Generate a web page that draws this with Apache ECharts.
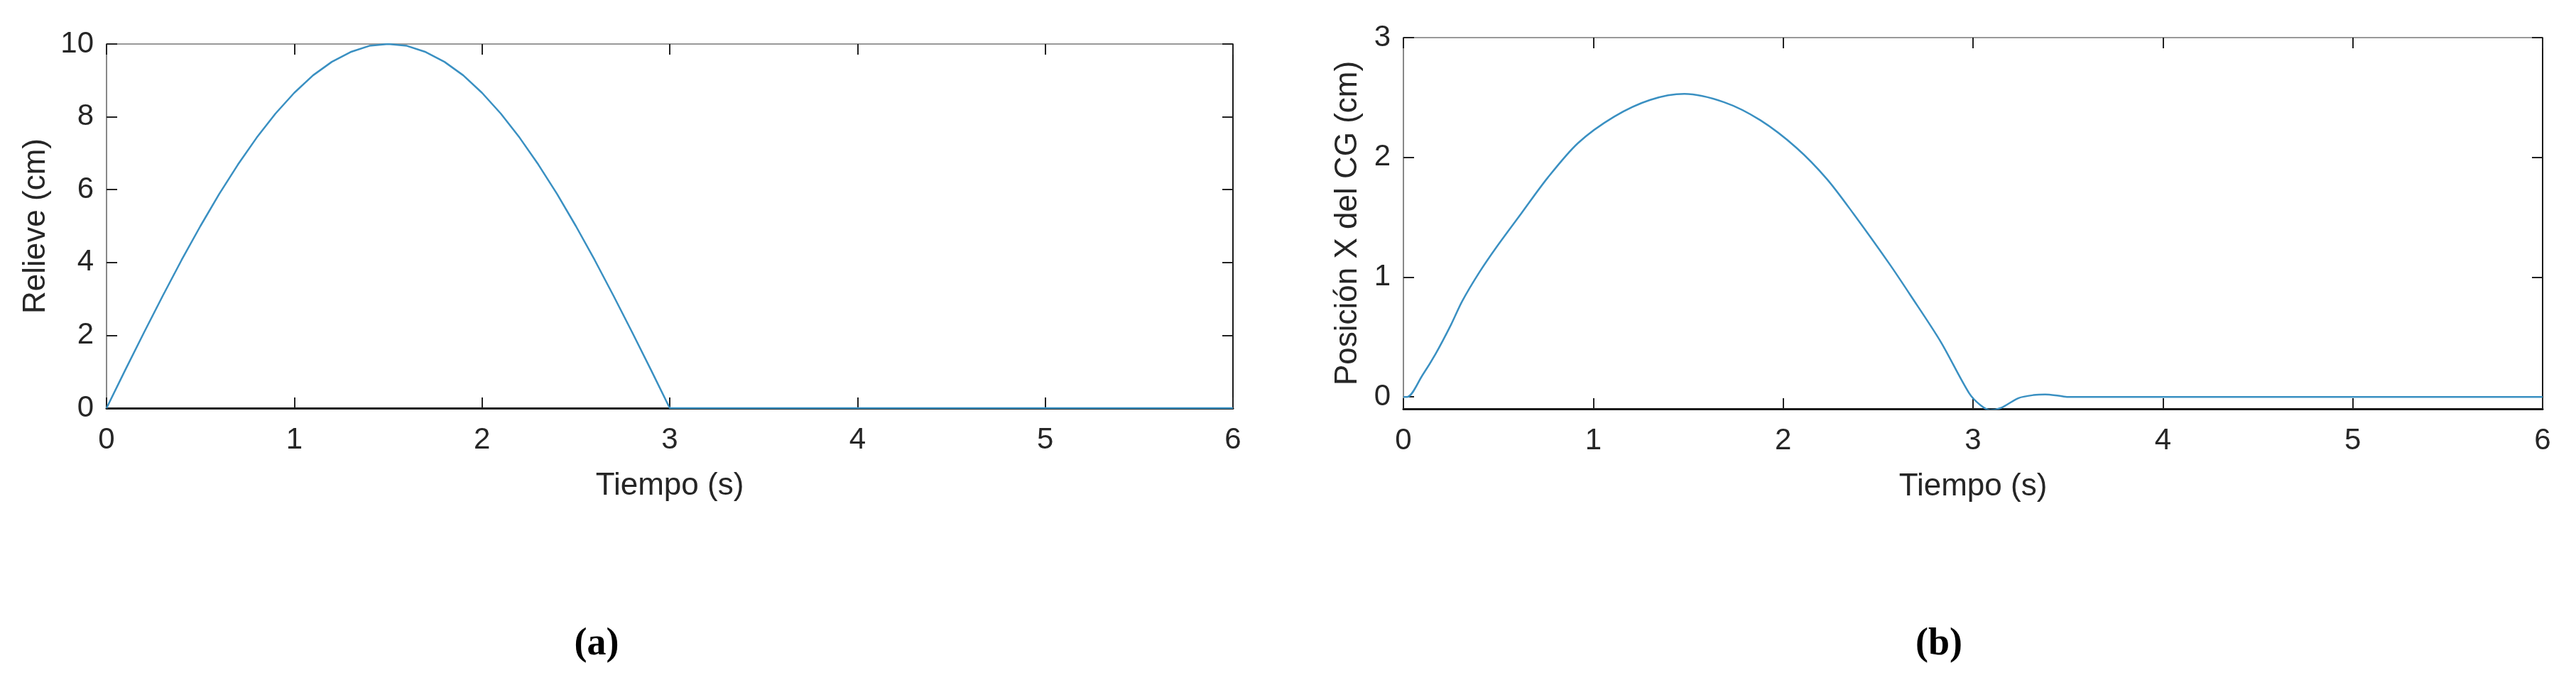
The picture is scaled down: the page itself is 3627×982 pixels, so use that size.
<!DOCTYPE html>
<html>
<head>
<meta charset="utf-8">
<script src="https://cdn.jsdelivr.net/npm/echarts@6/dist/echarts.min.js"></script>
<style>
  html, body { margin: 0; padding: 0; background: #fff; }
  #chart { width: 3627px; height: 982px; }
</style>
</head>
<body>
<div id="chart"></div>
<script>
// (a) Relieve vs tiempo
const timeA = [0, 0.1, 0.2, 0.3, 0.4, 0.5, 0.6, 0.7, 0.8, 0.9, 1.0, 1.1, 1.2, 1.3, 1.4, 1.5,
  1.6, 1.7, 1.8, 1.9, 2.0, 2.1, 2.2, 2.3, 2.4, 2.5, 2.6, 2.7, 2.8, 2.9, 3.0, 3.5, 4, 4.5, 5, 5.5, 6];
const relieve = [0, 1.05, 2.08, 3.09, 4.07, 5.0, 5.88, 6.69, 7.43, 8.09, 8.66, 9.14, 9.51, 9.78, 9.95, 10.0,
  9.95, 9.78, 9.51, 9.14, 8.66, 8.09, 7.43, 6.69, 5.88, 5.0, 4.07, 3.09, 2.08, 1.05, 0, 0, 0, 0, 0, 0, 0];

// (b) Posicion X del CG vs tiempo
const timeB = [0, 0.02, 0.1, 0.17, 0.25, 0.31, 0.4, 0.49, 0.62, 0.76, 0.92, 1.11, 1.3, 1.48, 1.69, 1.88,
  2.07, 2.23, 2.37, 2.56, 2.67, 2.83, 2.98, 3.04, 3.09, 3.15, 3.24, 3.32, 3.38, 3.45, 3.5, 4, 5, 6];
const posX = [0, 0, 0.18, 0.36, 0.6, 0.8, 1.04, 1.25, 1.53, 1.83, 2.12, 2.34, 2.48, 2.53, 2.46, 2.31,
  2.08, 1.82, 1.53, 1.11, 0.85, 0.46, 0.03, -0.07, -0.11, -0.09, -0.01, 0.015, 0.02, 0.01, 0, 0, 0, 0];

const xTicks = [0, 1, 2, 3, 4, 5, 6];
const yTicksA = [0, 2, 4, 6, 8, 10];
const yTicksB = [0, 1, 2, 3];

const FONT = 'Liberation Sans';
const TXT = '#262626';
const LINE = '#3a90c2';

const chart = echarts.init(document.getElementById('chart'));

const tickIn = { show: true, inside: true, length: 15, lineStyle: { color: '#222', width: 2 } };
const labelStyle = { color: TXT, fontFamily: FONT, fontSize: 42 };
const nameStyle = { color: TXT, fontFamily: FONT, fontSize: 44 };

function bottomX(gi) {
  return {
    type: 'value', gridIndex: gi, min: 0, max: 6, interval: 1,
    name: 'Tiempo (s)', nameLocation: 'middle', nameGap: 88, nameTextStyle: nameStyle,
    axisLine: { show: true, onZero: false, lineStyle: { color: '#1a1a1a', width: 3 } },
    axisTick: tickIn,
    axisLabel: Object.assign({ margin: 24 }, labelStyle),
    splitLine: { show: false }
  };
}
function topX(gi) {
  return {
    type: 'value', gridIndex: gi, position: 'top', min: 0, max: 6, interval: 1,
    axisLine: { show: true, onZero: false, lineStyle: { color: '#999', width: 2 } },
    axisTick: tickIn, axisLabel: { show: false }, splitLine: { show: false }
  };
}

const captionRich = {
  n: { fontFamily: 'Liberation Serif', fontSize: 54, color: '#000' },
  b: { fontFamily: 'Liberation Serif', fontSize: 54, fontWeight: 'bold', color: '#000' }
};

const option = {
  backgroundColor: '#fff',
  animation: false,
  title: [
    { text: '{n|(}{b|a}{n|)}', left: 835, top: 876, textAlign: 'center', textStyle: { rich: captionRich } },
    { text: '{n|(}{b|b}{n|)}', left: 2725, top: 876, textAlign: 'center', textStyle: { rich: captionRich } }
  ],
  grid: [
    { left: 150, right: 1891, top: 62, bottom: 407 },
    { left: 1976, right: 47, top: 53, bottom: 406 }
  ],
  xAxis: [bottomX(0), topX(0), bottomX(1), topX(1)],
  yAxis: [
    {
      type: 'value', gridIndex: 0, min: 0, max: 10, interval: 2,
      name: 'Relieve (cm)', nameLocation: 'middle', nameGap: 77, nameTextStyle: nameStyle,
      axisLine: { show: true, onZero: false, lineStyle: { color: '#888', width: 2 } },
      axisTick: tickIn, axisLabel: Object.assign({ margin: 18 }, labelStyle),
      splitLine: { show: false }
    },
    {
      type: 'value', gridIndex: 0, position: 'right', min: 0, max: 10, interval: 2,
      axisLine: { show: true, onZero: false, lineStyle: { color: '#1a1a1a', width: 2 } },
      axisTick: tickIn, axisLabel: { show: false }, splitLine: { show: false }
    },
    {
      type: 'value', gridIndex: 1, min: -0.1, max: 3,
      name: 'Posición X del CG (cm)', nameLocation: 'middle', nameGap: 56, nameTextStyle: nameStyle,
      axisLine: { show: true, onZero: false, lineStyle: { color: '#888', width: 2 } },
      axisTick: Object.assign({ customValues: yTicksB }, tickIn),
      axisLabel: Object.assign({ margin: 18, customValues: yTicksB }, labelStyle),
      splitLine: { show: false }
    },
    {
      type: 'value', gridIndex: 1, position: 'right', min: -0.1, max: 3,
      axisLine: { show: true, onZero: false, lineStyle: { color: '#1a1a1a', width: 2 } },
      axisTick: Object.assign({ customValues: yTicksB }, tickIn),
      axisLabel: { show: false }, splitLine: { show: false }
    }
  ],
  series: [
    {
      type: 'line', xAxisIndex: 0, yAxisIndex: 0,
      data: timeA.map((t, i) => [t, relieve[i]]),
      showSymbol: false, smooth: false,
      lineStyle: { color: LINE, width: 2.5 }, z: 5
    },
    {
      type: 'line', xAxisIndex: 2, yAxisIndex: 2,
      data: timeB.map((t, i) => [t, posX[i]]),
      showSymbol: false, smooth: 0.3,
      lineStyle: { color: LINE, width: 2.5 }, z: 5
    }
  ]
};

chart.setOption(option);
</script>
</body>
</html>
